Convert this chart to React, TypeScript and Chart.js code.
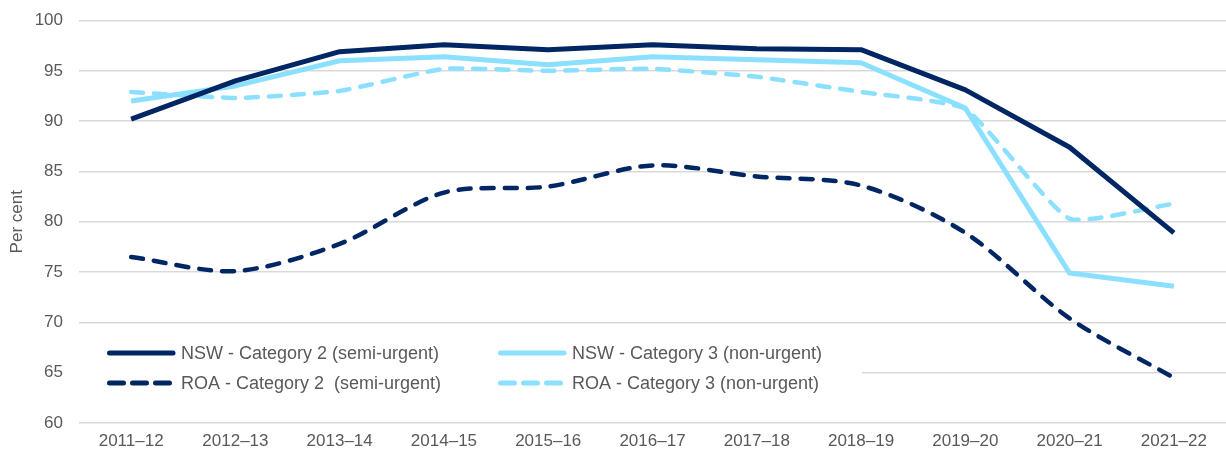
import React, { useEffect, useRef } from "react";
import { Chart, registerables } from "chart.js";

Chart.register(...registerables);

const categories = ["2011–12", "2012–13", "2013–14", "2014–15", "2015–16", "2016–17", "2017–18", "2018–19", "2019–20", "2020–21", "2021–22"];
const nswCat2 = [90.2, 94.0, 96.9, 97.6, 97.1, 97.6, 97.2, 97.1, 93.1, 87.4, 78.9];
const nswCat3 = [92.0, 93.5, 96.0, 96.4, 95.6, 96.4, 96.1, 95.8, 91.3, 74.9, 73.6];
const roaCat2 = [76.5, 75.1, 77.8, 82.9, 83.5, 85.6, 84.5, 83.6, 78.9, 70.4, 64.5];
const roaCat3 = [92.9, 92.3, 93.0, 95.2, 95.0, 95.2, 94.4, 92.9, 91.2, 80.3, 81.8];
const seriesLabels = [
  "NSW - Category 2 (semi-urgent)",
  "NSW - Category 3 (non-urgent)",
  "ROA - Category 2  (semi-urgent)",
  "ROA - Category 3 (non-urgent)",
];
const yTickMin = 60;
const yTickMax = 100;
const yTickStep = 5;

const DARK = "#002664";
const LIGHT = "#8CE0FF";
const TEXT = "#595959";
const FONT = "'Liberation Sans', Arial, sans-serif";

const legendPlugin = {
  id: "boxLegend",
  beforeDatasetsDraw(chart: any) {
    const ctx = chart.ctx;
    ctx.save();
    ctx.fillStyle = "#ffffff";
    ctx.fillRect(chart.chartArea.left, 328, 862 - chart.chartArea.left, 80);
    const slots = [
      { x: 107, y: 353 },
      { x: 498, y: 353 },
      { x: 107, y: 383 },
      { x: 498, y: 383 },
    ];
    chart.data.datasets.forEach((ds: any, i: number) => {
      const s = slots[i];
      ctx.strokeStyle = ds.borderColor;
      ctx.lineWidth = 5;
      ctx.lineCap = "round";
      ctx.setLineDash(ds.borderDash && ds.borderDash.length ? [14, 9] : []);
      ctx.beginPath();
      ctx.moveTo(s.x + 2.5, s.y);
      ctx.lineTo(s.x + 66, s.y);
      ctx.stroke();
      ctx.setLineDash([]);
      ctx.fillStyle = TEXT;
      ctx.font = `18px ${FONT}`;
      ctx.textBaseline = "middle";
      ctx.textAlign = "left";
      ctx.fillText(ds.label, s.x + 74, s.y + 1);
    });
    ctx.restore();
  },
};

export default function App() {
  const ref = useRef<HTMLCanvasElement | null>(null);
  useEffect(() => {
    document.body.style.margin = "0";
    const canvas = ref.current;
    if (!canvas) return;
    const chart = new Chart(canvas, {
      type: "line",
      data: {
        labels: categories,
        datasets: [
          {
            label: seriesLabels[0],
            data: nswCat2,
            borderColor: DARK,
            backgroundColor: DARK,
            borderWidth: 5,
            pointRadius: 0,
            tension: 0,
            borderJoinStyle: "round",
          },
          {
            label: seriesLabels[1],
            data: nswCat3,
            borderColor: LIGHT,
            backgroundColor: LIGHT,
            borderWidth: 5,
            pointRadius: 0,
            tension: 0,
            borderJoinStyle: "round",
          },
          {
            label: seriesLabels[2],
            data: roaCat2,
            borderColor: DARK,
            backgroundColor: DARK,
            borderWidth: 4.5,
            borderDash: [12, 11],
            borderCapStyle: "round",
            pointRadius: 0,
            tension: 0.3,
          },
          {
            label: seriesLabels[3],
            data: roaCat3,
            borderColor: LIGHT,
            backgroundColor: LIGHT,
            borderWidth: 4.5,
            borderDash: [12, 11],
            borderCapStyle: "round",
            pointRadius: 0,
            tension: 0.15,
          },
        ],
      },
      options: {
        animation: false,
        responsive: false,
        maintainAspectRatio: false,
        layout: { padding: { top: 20.5, right: 0, bottom: 0, left: 0 } },
        plugins: {
          legend: { display: false },
          tooltip: { enabled: false },
        },
        scales: {
          x: {
            type: "category",
            offset: true,
            grid: { display: false, drawTicks: false },
            border: { display: false },
            ticks: { color: TEXT, font: { size: 17, family: FONT }, padding: 8, maxRotation: 0, autoSkip: false },
            afterFit: (s: any) => {
              s.height = 29;
              s.paddingLeft = 0;
              s.paddingRight = 0;
            },
          },
          y: {
            min: yTickMin,
            max: yTickMax,
            grid: { color: "#d9d9d9", lineWidth: 1.5, drawTicks: false },
            border: { display: false },
            ticks: { stepSize: yTickStep, color: TEXT, font: { size: 17, family: FONT }, padding: 16 },
            title: {
              display: true,
              text: "Per cent",
              color: TEXT,
              font: { size: 17, family: FONT },
              padding: { top: 7, bottom: 0 },
            },
            afterFit: (s: any) => {
              s.width = 79;
              s.paddingTop = 0;
              s.paddingBottom = 0;
            },
          },
        },
      },
      plugins: [legendPlugin],
    } as any);
    return () => chart.destroy();
  }, []);
  return (
    <div style={{ width: 1226, height: 452, background: "#fff" }}>
      <canvas ref={ref} width={1226} height={452} style={{ display: "block", width: 1226, height: 452 }} />
    </div>
  );
}
